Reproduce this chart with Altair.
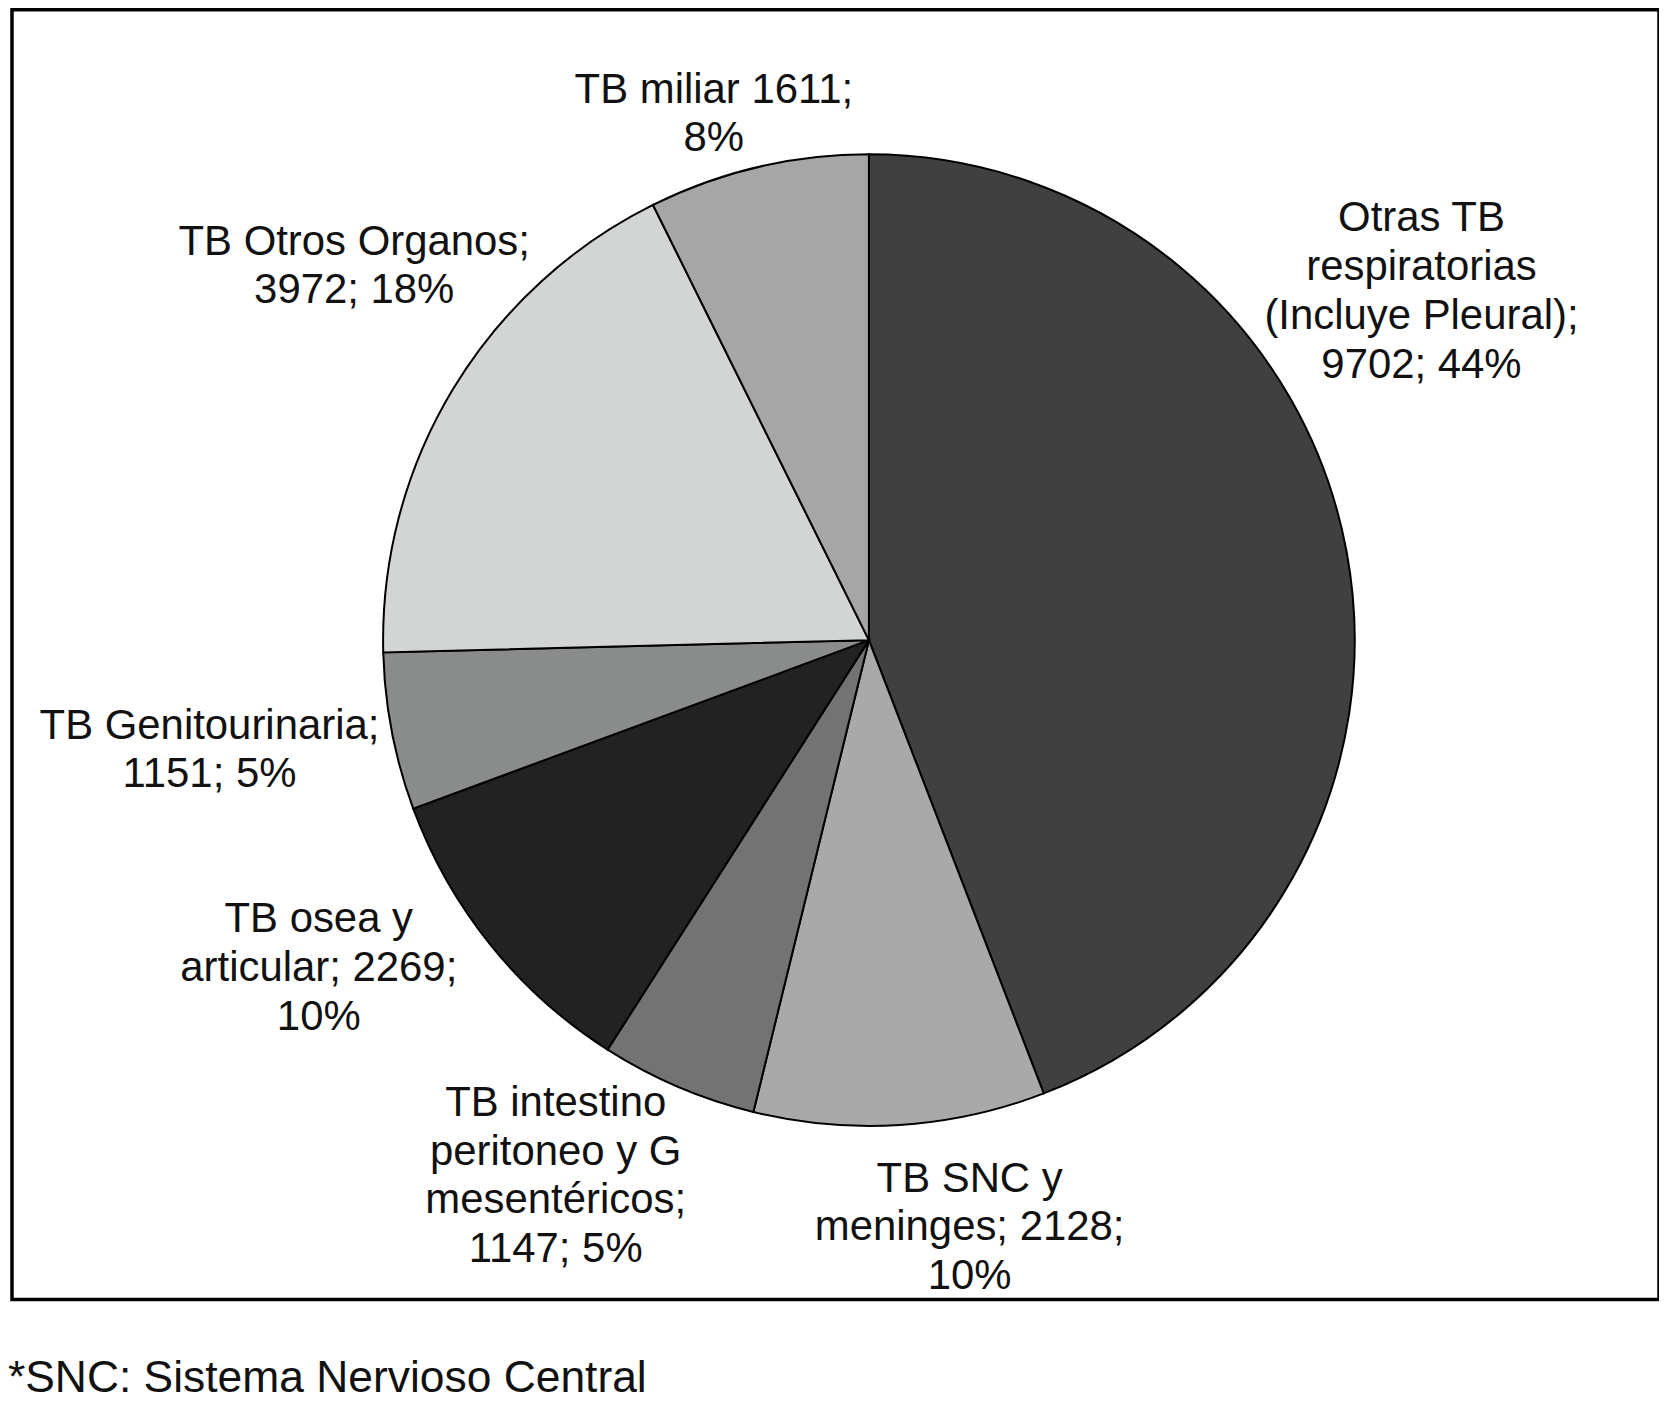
import altair as alt
import pandas as pd

categories = [
    "Otras TB respiratorias (Incluye Pleural)",
    "TB SNC y meninges",
    "TB intestino peritoneo y G mesentéricos",
    "TB osea y articular",
    "TB Genitourinaria",
    "TB Otros Organos",
    "TB miliar",
]
values = [9702, 2128, 1147, 2269, 1151, 3972, 1611]
labels = [
    "Otras TB\nrespiratorias\n(Incluye Pleural);\n9702; 44%",
    "TB SNC y\nmeninges; 2128;\n10%",
    "TB intestino\nperitoneo y G\nmesentéricos;\n1147; 5%",
    "TB osea y\narticular; 2269;\n10%",
    "TB Genitourinaria;\n1151; 5%",
    "TB Otros Organos;\n3972; 18%",
    "TB miliar 1611;\n8%",
]
colors = ["#404040", "#a9a9a9", "#737373", "#222222", "#8a8b8b", "#d3d4d4", "#a6a6a6"]
footnote = "*SNC: Sistema Nervioso Central"

df = pd.DataFrame({
    "cat": categories,
    "val": values,
    "label": labels,
    "idx": list(range(len(categories))),
})

CX, CY, R = 859, 632, 487
FONT = "Liberation Sans"
LH = 49

arcs = alt.Chart(df).mark_arc(radius=R, stroke="black", strokeWidth=2).encode(
    theta=alt.Theta("val:Q", stack=True),
    order=alt.Order("idx:Q", sort="ascending"),
    color=alt.Color("cat:N", scale=alt.Scale(domain=categories, range=colors), legend=None),
    x=alt.value(CX),
    y=alt.value(CY),
)

# label placement (radius, dx, dy) per category - styling only
placement = [
    (657, -92, -234),
    (593, 63, -8),
    (618, -71, -36),
    (639, -54, -77),
    (669, -4, -21),
    (641, 33, -49),
    (554, -29, 7),
]

layers = [arcs]
for cat, lab, (r, dx, dy) in zip(categories, labels, placement):
    n = lab.count("\n") + 1
    dy_adj = dy - (n - 1) * LH / 2 + 5
    layers.append(
        alt.Chart(df)
        .transform_stack(stack="val", groupby=[], as_=["v0", "v1"],
                         sort=[alt.SortField("idx", order="ascending")])
        .transform_calculate(mid="(datum.v0 + datum.v1) / 2")
        .transform_filter(alt.datum.cat == cat)
        .mark_text(
            radius=r, dx=dx, dy=dy_adj, font=FONT, fontSize=42, lineHeight=LH,
            lineBreak="\n", align="center", baseline="middle", color="#111111",
        )
        .encode(
            theta=alt.Theta("mid:Q", scale=alt.Scale(domain=[0, sum(values)], range=[0, 6.283185307179586])),
            text="label:N",
            x=alt.value(CX),
            y=alt.value(CY),
        )
    )

foot = alt.Chart(pd.DataFrame({"t": [footnote]})).mark_text(
    font=FONT, fontSize=44.5, align="left", baseline="alphabetic", color="#111111"
).encode(text="t:N", x=alt.value(-4), y=alt.value(1386))

chart = alt.layer(*layers, foot).resolve_scale(theta="independent").properties(
    width=1651, height=1293, padding=0
).configure_view(stroke="black", strokeWidth=3.5)

chart.save("out.html", embed_options={"renderer": "svg", "actions": False})
